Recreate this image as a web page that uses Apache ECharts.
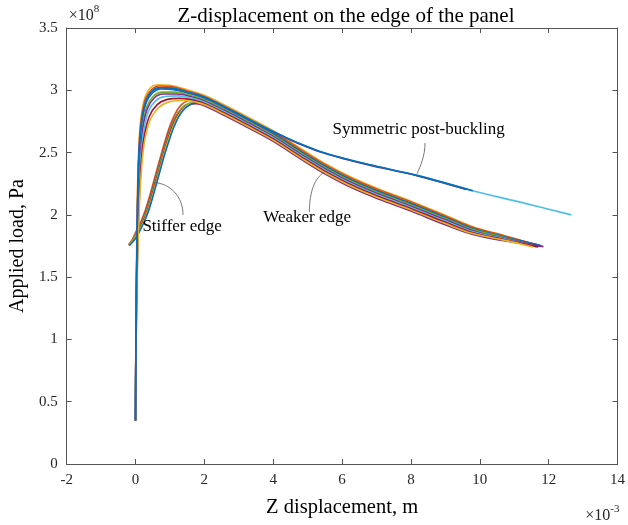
<!DOCTYPE html>
<html><head><meta charset="utf-8">
<script src="https://cdn.jsdelivr.net/npm/echarts@6/dist/echarts.min.js"></script>
<style>html,body{margin:0;padding:0;background:#fff}#c{width:628px;height:525px}</style>
</head><body><div id="c"></div>
<script>
// Units: x in 1e-3 m, y in 1e8 Pa
const xTicks = [-2, 0, 2, 4, 6, 8, 10, 12, 14];
const yTicks = [0, 0.5, 1, 1.5, 2, 2.5, 3, 3.5];

// Weaker-edge-type curves (start at negative displacement)
const W1 = [[-0.2,1.76],[-0.08,1.81],[0.04,1.88],[0.17,1.955],[0.29,2.04],[0.41,2.15],[0.52,2.26],[0.62,2.36],[0.72,2.46],[0.85,2.585],[1.0,2.715],[1.15,2.81],[1.3,2.875],[1.5,2.915],[1.7,2.93],[2.0,2.93],[2.6,2.85],[3.3,2.75],[4.0,2.645],[4.8,2.503],[5.5,2.385],[6.3,2.27],[7.1,2.178],[8.0,2.085],[9.0,1.975],[9.8,1.886],[10.7,1.82],[11.8,1.752]];
const W2 = [[-0.19,1.755],[-0.06,1.805],[0.06,1.875],[0.19,1.95],[0.31,2.035],[0.43,2.145],[0.54,2.255],[0.64,2.355],[0.74,2.455],[0.87,2.575],[1.02,2.7],[1.17,2.79],[1.33,2.85],[1.53,2.885],[1.75,2.895],[2.0,2.875],[2.6,2.795],[3.3,2.695],[4.0,2.59],[4.8,2.448],[5.5,2.33],[6.3,2.215],[7.1,2.123],[8.0,2.03],[9.0,1.92],[9.8,1.842],[10.7,1.792],[11.85,1.745]];
const W3 = [[-0.19,1.76],[-0.05,1.81],[0.08,1.88],[0.21,1.955],[0.33,2.04],[0.45,2.15],[0.56,2.26],[0.66,2.36],[0.76,2.46],[0.89,2.58],[1.04,2.705],[1.19,2.795],[1.35,2.86],[1.55,2.895],[1.75,2.905],[2.0,2.9],[2.6,2.82],[3.3,2.72],[4.0,2.615],[4.8,2.473],[5.5,2.355],[6.3,2.24],[7.1,2.148],[8.0,2.055],[9.0,1.945],[9.8,1.862],[10.7,1.805],[11.6,1.75]];
const W4 = [[-0.18,1.755],[-0.03,1.805],[0.1,1.875],[0.23,1.95],[0.35,2.035],[0.47,2.145],[0.58,2.255],[0.68,2.355],[0.78,2.455],[0.91,2.575],[1.06,2.7],[1.21,2.79],[1.37,2.85],[1.57,2.885],[1.78,2.895],[2.05,2.885],[2.6,2.81],[3.3,2.71],[4.0,2.605],[4.8,2.463],[5.5,2.345],[6.3,2.23],[7.1,2.138],[8.0,2.045],[9.0,1.935],[9.8,1.855],[10.7,1.8],[11.7,1.743]];
const W5 = [[-0.18,1.76],[-0.02,1.81],[0.12,1.88],[0.25,1.955],[0.37,2.04],[0.49,2.15],[0.6,2.26],[0.7,2.36],[0.8,2.46],[0.93,2.58],[1.08,2.7],[1.23,2.79],[1.4,2.855],[1.6,2.895],[1.8,2.91],[2.05,2.915],[2.6,2.84],[3.3,2.74],[4.0,2.635],[4.8,2.493],[5.5,2.375],[6.3,2.26],[7.1,2.168],[8.0,2.075],[9.0,1.965],[9.8,1.877],[10.7,1.815],[11.5,1.752]];
const W6 = [[-0.17,1.758],[0.0,1.81],[0.14,1.88],[0.27,1.955],[0.39,2.04],[0.51,2.15],[0.62,2.26],[0.72,2.36],[0.82,2.46],[0.95,2.575],[1.1,2.695],[1.25,2.785],[1.42,2.85],[1.62,2.89],[1.82,2.91],[2.1,2.925],[2.6,2.86],[3.3,2.76],[4.0,2.655],[4.8,2.513],[5.5,2.395],[6.3,2.28],[7.1,2.188],[8.0,2.095],[9.0,1.985],[9.8,1.895],[10.7,1.826],[11.75,1.755]];

// Stiffer-edge-type curves (start near zero displacement)
const S1 = [[0,0.35],[0.01,1.0],[0.03,1.6],[0.05,2.1],[0.09,2.5],[0.15,2.76],[0.27,2.94],[0.45,3.025],[0.65,3.045],[1.0,3.04],[1.5,3.005],[2.0,2.96],[2.6,2.88],[3.3,2.78],[4.0,2.675],[4.8,2.533],[5.5,2.413],[6.3,2.298],[7.1,2.204],[8.0,2.11],[9.0,1.997],[9.8,1.905],[10.7,1.835],[11.45,1.772]];
const S2 = [[0,0.35],[0.011,1.0],[0.033,1.6],[0.056,2.1],[0.095,2.49],[0.16,2.75],[0.29,2.93],[0.48,3.01],[0.68,3.035],[1.05,3.03],[1.5,2.995],[2.0,2.95],[2.6,2.87],[3.3,2.77],[4.0,2.665],[4.8,2.523],[5.5,2.405],[6.3,2.29],[7.1,2.197],[8.0,2.103],[9.0,1.99],[9.8,1.9],[10.7,1.833],[11.55,1.768]];
const S3 = [[0,0.35],[0.012,1.0],[0.037,1.6],[0.066,2.09],[0.11,2.47],[0.175,2.72],[0.31,2.9],[0.5,2.98],[0.72,3.01],[1.1,3.005],[1.55,2.975],[2.0,2.935],[2.6,2.855],[3.3,2.755],[4.0,2.65],[4.8,2.508],[5.5,2.39],[6.3,2.275],[7.1,2.183],[8.0,2.09],[9.0,1.979],[9.8,1.89],[10.7,1.824],[11.7,1.758]];
const S4 = [[0,0.35],[0.014,1.0],[0.042,1.6],[0.076,2.08],[0.12,2.45],[0.19,2.69],[0.33,2.87],[0.53,2.955],[0.77,2.985],[1.15,2.985],[1.6,2.96],[2.0,2.925],[2.6,2.845],[3.3,2.745],[4.0,2.64],[4.8,2.498],[5.5,2.38],[6.3,2.265],[7.1,2.173],[8.0,2.08],[9.0,1.97],[9.8,1.882],[10.7,1.818],[11.5,1.76]];
const S5 = [[0,0.35],[0.015,1.0],[0.045,1.6],[0.085,2.08],[0.13,2.43],[0.2,2.67],[0.34,2.85],[0.55,2.94],[0.8,2.97],[1.2,2.97],[1.6,2.95],[2.0,2.915],[2.6,2.835],[3.3,2.735],[4.0,2.63],[4.8,2.488],[5.5,2.37],[6.3,2.255],[7.1,2.163],[8.0,2.07],[9.0,1.96],[9.8,1.873],[10.7,1.812],[11.75,1.748]];
const S6 = [[0,0.35],[0.016,1.0],[0.048,1.6],[0.092,2.07],[0.145,2.41],[0.22,2.64],[0.36,2.82],[0.58,2.915],[0.85,2.95],[1.25,2.955],[1.65,2.935],[2.0,2.905],[2.6,2.825],[3.3,2.725],[4.0,2.62],[4.8,2.478],[5.5,2.36],[6.3,2.245],[7.1,2.153],[8.0,2.06],[9.0,1.95],[9.8,1.865],[10.7,1.807],[11.6,1.748]];
const S7 = [[0,0.35],[0.018,1.0],[0.053,1.6],[0.1,2.06],[0.16,2.39],[0.24,2.61],[0.4,2.79],[0.63,2.885],[0.9,2.925],[1.3,2.935],[1.7,2.92],[2.0,2.895],[2.6,2.815],[3.3,2.715],[4.0,2.61],[4.8,2.468],[5.5,2.35],[6.3,2.235],[7.1,2.143],[8.0,2.05],[9.0,1.94],[9.8,1.857],[10.7,1.802],[11.65,1.745]];
const S8 = [[0,0.35],[0.019,1.0],[0.057,1.6],[0.11,2.05],[0.175,2.37],[0.26,2.585],[0.43,2.765],[0.67,2.86],[0.95,2.905],[1.4,2.92],[1.75,2.905],[2.05,2.88],[2.6,2.805],[3.3,2.705],[4.0,2.6],[4.8,2.458],[5.5,2.34],[6.3,2.225],[7.1,2.133],[8.0,2.04],[9.0,1.93],[9.8,1.85],[10.7,1.797],[11.55,1.742]];

// Symmetric post-buckling curves
const P1 = [[0,0.35],[0.012,1.0],[0.035,1.6],[0.062,2.09],[0.1,2.48],[0.17,2.73],[0.3,2.91],[0.49,2.995],[0.7,3.02],[1.08,3.015],[1.52,2.985],[2.0,2.945],[2.6,2.865],[3.2,2.78],[3.8,2.695],[4.3,2.63],[4.8,2.568],[5.4,2.505],[6.1,2.45],[6.8,2.402],[8.2,2.315],[9.7,2.2],[11.2,2.1],[12.66,2.0]];
const P2 = [[0,0.35],[0.012,1.0],[0.035,1.6],[0.062,2.09],[0.1,2.48],[0.17,2.73],[0.3,2.91],[0.49,2.995],[0.7,3.02],[1.08,3.015],[1.52,2.985],[2.0,2.945],[2.6,2.865],[3.2,2.778],[3.8,2.692],[4.3,2.627],[4.8,2.565],[5.4,2.502],[6.1,2.447],[6.8,2.399],[8.2,2.312],[9.6,2.204]];
const P3 = [[0,0.35],[0.012,1.0],[0.035,1.6],[0.062,2.09],[0.1,2.48],[0.17,2.73],[0.3,2.91],[0.49,2.995],[0.7,3.02],[1.08,3.015],[1.52,2.985],[2.0,2.945],[2.6,2.865],[3.2,2.78],[3.8,2.695],[4.3,2.63],[4.8,2.568],[5.4,2.505],[6.1,2.45],[6.8,2.402],[8.2,2.315],[9.8,2.193]];

const curves = [
  [W1,'#D95319'],[W2,'#7E2F8E'],[W3,'#77AC30'],[W4,'#A2142F'],[W5,'#EDB120'],[W6,'#0072BD'],
  [S1,'#EDB120'],[S2,'#D95319'],[S3,'#0072BD'],[S4,'#77AC30'],[S5,'#7E2F8E'],[S6,'#4DBEEE'],[S7,'#A2142F'],[S8,'#EDB120'],
  [P1,'#4DBEEE'],[P2,'#7E2F8E'],[P3,'#0072BD']
];

const SERIF = '"Liberation Serif", "Times New Roman", serif';
const AX = '#555555';

const series = curves.map(([d, c]) => ({
  type: 'line', data: d, showSymbol: false, smooth: 0.35, silent: true,
  lineStyle: { color: c, width: 1.6 }, xAxisIndex: 0, yAxisIndex: 0, z: 2
}));

const baseX = { type: 'value', min: xTicks[0], max: xTicks[xTicks.length-1], interval: 2,
  splitLine: { show: false }, axisLine: { show: true, onZero: false, lineStyle: { color: AX, width: 1 } },
  axisTick: { show: true, inside: true, length: 5, lineStyle: { color: AX } } };
const baseY = { type: 'value', min: yTicks[0], max: yTicks[yTicks.length-1], interval: 0.5,
  splitLine: { show: false }, axisLine: { show: true, onZero: false, lineStyle: { color: AX, width: 1 } },
  axisTick: { show: true, inside: true, length: 5, lineStyle: { color: AX } } };

const option = {
  animation: false,
  backgroundColor: '#fff',
  title: { text: 'Z-displacement on the edge of the panel', left: 341, top: 1, textAlign: 'center',
    textStyle: { fontFamily: SERIF, fontSize: 21, fontWeight: 'normal', color: '#000' } },
  grid: { left: 62, right: 8, top: 28, bottom: 61, containLabel: false },
  xAxis: [
    Object.assign({}, baseX, { position: 'bottom',
      axisLabel: { fontFamily: SERIF, fontSize: 15, color: '#262626', margin: 9 },
      name: 'Z displacement, m', nameLocation: 'middle', nameGap: 33,
      nameTextStyle: { fontFamily: SERIF, fontSize: 20.5, color: '#000' } }),
    Object.assign({}, baseX, { position: 'top', axisLabel: { show: false } })
  ],
  yAxis: [
    Object.assign({}, baseY, { position: 'left',
      axisLabel: { fontFamily: SERIF, fontSize: 15, color: '#262626', margin: 9 },
      name: 'Applied load, Pa', nameLocation: 'middle', nameGap: 33,
      nameTextStyle: { fontFamily: SERIF, fontSize: 20, color: '#000' } }),
    Object.assign({}, baseY, { position: 'right', axisLabel: { show: false } })
  ],
  series: series
};

const chart = echarts.init(document.getElementById('c'));
chart.setOption(option);

function P(p) { return chart.convertToPixel({ xAxisIndex: 0, yAxisIndex: 0 }, p); }

// annotation anchors (data coordinates)
const notes = [
  { text: 'Stiffer edge', at: [0.2, 1.91], path: [[1.38, 2.0], [1.38, 2.15], [1.0, 2.25], [0.55, 2.26]] },
  { text: 'Weaker edge', at: [3.71, 1.975], path: [[5.05, 2.023], [5.05, 2.19], [5.22, 2.30], [5.48, 2.342]] },
  { text: 'Symmetric post-buckling', at: [5.72, 2.681], path: [[8.41, 2.577], [8.41, 2.47], [8.27, 2.39], [8.18, 2.33]] }
];

const graphics = [];
notes.forEach(n => {
  const t = P(n.at);
  graphics.push({ type: 'text', x: t[0], y: t[1], silent: true, z: 10,
    style: { text: n.text, fontFamily: SERIF, fontSize: 17, fill: '#000', textAlign: 'left', textVerticalAlign: 'middle' } });
  const a = P(n.path[0]), b = P(n.path[1]), c = P(n.path[2]), d = P(n.path[3]);
  graphics.push({ type: 'bezierCurve', silent: true, z: 10,
    shape: { x1: a[0], y1: a[1], cpx1: b[0], cpy1: b[1], cpx2: c[0], cpy2: c[1], x2: d[0], y2: d[1] },
    style: { stroke: '#555', lineWidth: 0.8, fill: null } });
});

// exponent labels
const tl = P([xTicks[0], yTicks[yTicks.length-1]]);
const br = P([xTicks[xTicks.length-1], yTicks[0]]);
graphics.push({ type: 'text', x: tl[0] + 2, y: tl[1] - 4, silent: true,
  style: { text: '{a|×10}{b|8}', fontFamily: SERIF, textVerticalAlign: 'bottom',
    rich: { a: { fontSize: 16, fontFamily: SERIF, fill: '#262626', verticalAlign: 'bottom' },
            b: { fontSize: 11, fontFamily: SERIF, fill: '#262626', verticalAlign: 'top', padding: [0,0,9,0] } } } });
graphics.push({ type: 'text', x: br[0] + 2, y: br[1] + 40, silent: true,
  style: { text: '{a|×10}{b|-3}', fontFamily: SERIF, textAlign: 'right', textVerticalAlign: 'top',
    rich: { a: { fontSize: 16, fontFamily: SERIF, fill: '#262626', verticalAlign: 'bottom' },
            b: { fontSize: 11, fontFamily: SERIF, fill: '#262626', verticalAlign: 'top', padding: [0,0,9,0] } } } });

chart.setOption({ graphic: graphics });
</script>
</body></html>
